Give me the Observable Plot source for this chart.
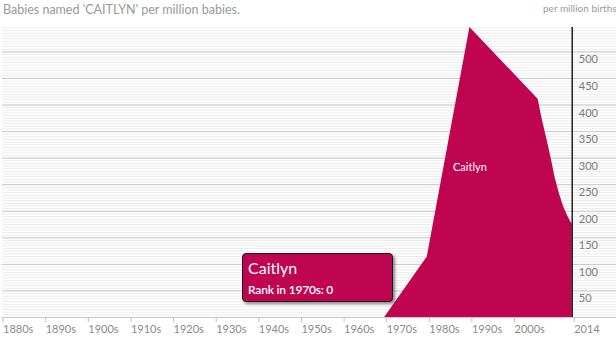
<!DOCTYPE html>
<html>
<head>
<meta charset="utf-8">
<script src="https://cdn.jsdelivr.net/npm/d3@7"></script>
<script src="https://cdn.jsdelivr.net/npm/@observablehq/plot@0.6"></script>
<style>
  html, body { margin: 0; padding: 0; background: #fff; overflow: hidden; }
  #wrap { position: relative; width: 616px; height: 340px; font-family: Lato, "Noto Sans", sans-serif; }
  #title { position: absolute; left: 3px; top: 2px; font-size: 12.5px; color: #9a9a9a; white-space: nowrap; }
  #unit { position: absolute; left: 543px; top: 2px; font-size: 10px; color: #9a9a9a; white-space: nowrap; }
  #tip { position: absolute; left: 242px; top: 253px; width: 149px; height: 47px; background: #bf0550;
         border: 1px solid #1a1a1a; border-radius: 4px; box-shadow: 2px 2px 3px rgba(0,0,0,0.45); color: #fff; }
  #tip .n { position: absolute; left: 5px; top: 4px; font-size: 16px; }
  #tip .r { position: absolute; left: 5px; top: 28px; font-size: 12px; font-weight: 600; letter-spacing: -0.2px; }
  svg { position: absolute; left: 0; top: 0; }
</style>
</head>
<body>
<div id="wrap">
  <div id="chart"></div>
  <div id="title"></div>
  <div id="unit"></div>
  <div id="tip"><div class="n"></div><div class="r"></div></div>
</div>
<script>
// ---- data ----
const babyName = "Caitlyn";
const titleText = "Babies named 'CAITLYN' per million babies.";
const unitText = "per million births";
const years  = [1970, 1980, 1990, 2006, 2007, 2008, 2009, 2010, 2011, 2012, 2013, 2014];
const values = [0,    114,  546,  411,  372,  338,  302,  263,  233,  208,  190,  175];
const xTickYears  = [1880, 1890, 1900, 1910, 1920, 1930, 1940, 1950, 1960, 1970, 1980, 1990, 2000, 2014];
const xTickLabels = ["1880s","1890s","1900s","1910s","1920s","1930s","1940s","1950s","1960s","1970s","1980s","1990s","2000s","2014"];
const yTicks = [50, 100, 150, 200, 250, 300, 350, 400, 450, 500];
const tipDecade = "1970s";
const tipRank = 0;

const data = years.map((y, i) => ({year: y, value: values[i]}));
const peak = data.reduce((a, b) => (b.value > a.value ? b : a));
const minorTicks = d3.range(5, peak.value, 5);
const majorTicks = [0].concat(yTicks);

const W = 616, H = 340;
const mL = 0.6, mR = 44.3, mT = 27, mB = 23;
const fill = "#bf0550";

const plot = Plot.plot({
  width: W, height: H,
  marginLeft: mL, marginRight: mR, marginTop: mT, marginBottom: mB,
  style: {fontFamily: "Lato, 'Noto Sans', sans-serif", background: "transparent"},
  x: {domain: [1880, 2014]},
  y: {domain: [0, peak.value]},
  marks: [
    Plot.ruleY(minorTicks, {stroke: "#ebebeb", strokeWidth: 1, insetLeft: 1.4, insetRight: -mR}),
    Plot.ruleY(majorTicks, {stroke: "#c8c8c8", strokeWidth: 1, insetLeft: 1.4, insetRight: -mR}),
    Plot.areaY(data, {x: "year", y: "value", fill: fill, curve: "linear"}),
    Plot.text([peak], {x: "year", y: d => d.value / 2, text: () => babyName, fill: "#fff", fontSize: 11, dy: -5}),
    Plot.ruleX([2014], {stroke: "#000", strokeWidth: 1.3}),
    Plot.axisX({
      ticks: xTickYears, tickSize: 5, stroke: "#c0c0c0",
      tickFormat: d => xTickLabels[xTickYears.indexOf(d)],
      textAnchor: "start", dx: 2, tickPadding: 3, fontSize: 11, fill: "#8a8a8a", label: null
    }),
    Plot.axisY({
      anchor: "right", ticks: yTicks, tickSize: 0, tickPadding: 6.6, dy: 8,
      fontSize: 11, fill: "#7a7a7a", label: null
    })
  ]
});
document.getElementById("chart").appendChild(plot);
document.getElementById("title").textContent = titleText;
document.getElementById("unit").textContent = unitText;
document.querySelector("#tip .n").textContent = babyName;
document.querySelector("#tip .r").textContent = `Rank in ${tipDecade}: ${tipRank}`;
</script>
</body>
</html>
